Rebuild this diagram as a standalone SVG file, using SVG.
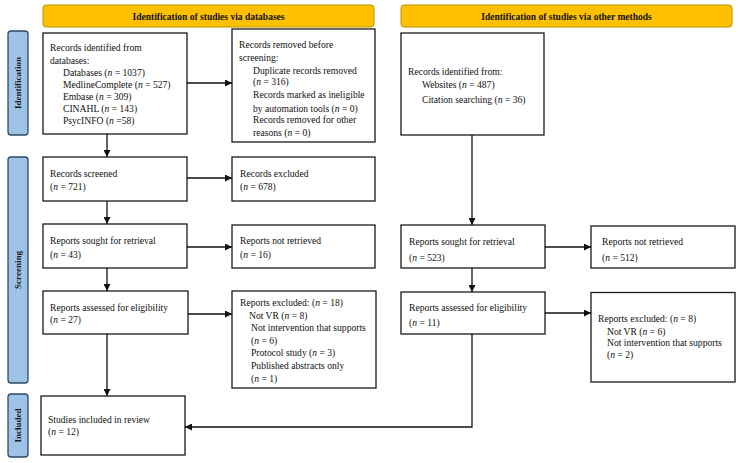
<svg xmlns="http://www.w3.org/2000/svg" width="740" height="463" viewBox="0 0 740 463">
<defs>
<marker id="arr" viewBox="0 0 10 10" refX="10" refY="5" markerWidth="7" markerHeight="7" markerUnits="userSpaceOnUse" orient="auto">
<path d="M0,0 L10,5 L0,10 z" fill="#111"/>
</marker>
<style>
.box{fill:#fff;stroke:#1a1a1a;stroke-width:1.3}
.hdr{fill:#FFC000;stroke:#BF9000;stroke-width:1}
.pill{fill:#9DC3E6;stroke:#2E4A66;stroke-width:1.3}
.t{font-family:"Liberation Serif",serif;font-size:9.6px;fill:#111}
.h{font-family:"Liberation Serif",serif;font-size:9.5px;font-weight:bold;fill:#111}
.s{font-family:"Liberation Serif",serif;font-size:9px;font-weight:bold;fill:#1a1a1a}
.c{fill:none;stroke:#111;stroke-width:1.3}
</style>
</defs>
<rect width="740" height="463" fill="#fff"/>

<g id="hdr-db"><rect class="hdr" x="43" y="5" width="331" height="22" rx="3"/><text class="h" x="208.5" y="19.5" text-anchor="middle">Identification of studies via databases</text></g>
<g id="hdr-other"><rect class="hdr" x="401" y="5" width="331" height="22" rx="3"/><text class="h" x="566.5" y="19.5" text-anchor="middle">Identification of studies via other methods</text></g>

<g id="lbl-identification"><rect class="pill" x="8" y="31" width="20" height="104" rx="3"/><text class="s" transform="translate(21,83) rotate(-90)" text-anchor="middle">Identification</text></g>
<g id="lbl-screening"><rect class="pill" x="8" y="157" width="20" height="226" rx="3"/><text class="s" transform="translate(21,270) rotate(-90)" text-anchor="middle">Screening</text></g>
<g id="lbl-included"><rect class="pill" x="8" y="394" width="20" height="63" rx="3"/><text class="s" transform="translate(21,425.5) rotate(-90)" text-anchor="middle">Included</text></g>

<g id="db-identified"><rect class="box" x="43" y="33" width="144" height="101"/>
<text class="t" x="50" y="51">Records identified from</text>
<text class="t" x="50" y="64">databases:</text>
<text class="t" x="63" y="76">Databases (<tspan font-style="italic">n</tspan> = 1037)</text>
<text class="t" x="63" y="88">MedlineComplete (<tspan font-style="italic">n</tspan> = 527)</text>
<text class="t" x="63" y="100">Embase (<tspan font-style="italic">n</tspan> = 309)</text>
<text class="t" x="63" y="112">CINAHL (<tspan font-style="italic">n</tspan> = 143)</text>
<text class="t" x="63" y="124">PsycINFO (<tspan font-style="italic">n</tspan> =58)</text>
</g>
<g id="db-removed"><rect class="box" x="232" y="29" width="143" height="113"/>
<text class="t" x="239" y="48">Records removed before</text>
<text class="t" x="239" y="61">screening:</text>
<text class="t" x="253" y="74">Duplicate records removed</text>
<text class="t" x="253" y="85">(<tspan font-style="italic">n</tspan> = 316)</text>
<text class="t" x="253" y="98">Records marked as ineligible</text>
<text class="t" x="253" y="111.5">by automation tools (<tspan font-style="italic">n</tspan> = 0)</text>
<text class="t" x="253" y="123">Records removed for other</text>
<text class="t" x="253" y="136">reasons (<tspan font-style="italic">n</tspan> = 0)</text>
</g>
<g id="db-screened"><rect class="box" x="43" y="157" width="144" height="44"/>
<text class="t" x="50" y="177">Records screened</text>
<text class="t" x="50" y="190">(<tspan font-style="italic">n</tspan> = 721)</text>
</g>
<g id="db-excluded"><rect class="box" x="232" y="157" width="143" height="44"/>
<text class="t" x="240" y="177">Records excluded</text>
<text class="t" x="240" y="190">(<tspan font-style="italic">n</tspan> = 678)</text>
</g>
<g id="db-sought"><rect class="box" x="43" y="224" width="144" height="44"/>
<text class="t" x="50" y="244">Reports sought for retrieval</text>
<text class="t" x="50" y="258">(<tspan font-style="italic">n</tspan> = 43)</text>
</g>
<g id="db-notretrieved"><rect class="box" x="232" y="225" width="143" height="43"/>
<text class="t" x="240" y="244">Reports not retrieved</text>
<text class="t" x="240" y="258">(<tspan font-style="italic">n</tspan> = 16)</text>
</g>
<g id="db-assessed"><rect class="box" x="43" y="291" width="145" height="43"/>
<text class="t" x="50" y="311">Reports assessed for eligibility</text>
<text class="t" x="50" y="323">(<tspan font-style="italic">n</tspan> = 27)</text>
</g>
<g id="db-reports-excluded"><rect class="box" x="232" y="291" width="144" height="97"/>
<text class="t" x="240" y="306">Reports excluded: (<tspan font-style="italic">n</tspan> = 18)</text>
<text class="t" x="249" y="318.5">Not VR (<tspan font-style="italic">n</tspan> = 8)</text>
<text class="t" x="251" y="331">Not intervention that supports</text>
<text class="t" x="251" y="343.5">(<tspan font-style="italic">n</tspan> = 6)</text>
<text class="t" x="251" y="356">Protocol study (<tspan font-style="italic">n</tspan> = 3)</text>
<text class="t" x="251" y="368.5">Published abstracts only</text>
<text class="t" x="251" y="382">(<tspan font-style="italic">n</tspan> = 1)</text>
</g>
<g id="included"><rect class="box" x="41" y="396" width="144" height="59"/>
<text class="t" x="48" y="423">Studies included in review</text>
<text class="t" x="48" y="435">(<tspan font-style="italic">n</tspan> = 12)</text>
</g>

<g id="oth-identified"><rect class="box" x="401" y="33" width="143" height="102"/>
<text class="t" x="408" y="75">Records identified from:</text>
<text class="t" x="422" y="87.5">Websites (<tspan font-style="italic">n</tspan> = 487)</text>
<text class="t" x="422" y="102.5">Citation searching (<tspan font-style="italic">n</tspan> = 36)</text>
</g>
<g id="oth-sought"><rect class="box" x="401" y="225" width="144" height="43"/>
<text class="t" x="409" y="245">Reports sought for retrieval</text>
<text class="t" x="409" y="260.5">(<tspan font-style="italic">n</tspan> = 523)</text>
</g>
<g id="oth-notretrieved"><rect class="box" x="591" y="226" width="144" height="42"/>
<text class="t" x="602" y="245">Reports not retrieved</text>
<text class="t" x="602" y="260.5">(<tspan font-style="italic">n</tspan> = 512)</text>
</g>
<g id="oth-assessed"><rect class="box" x="401" y="292" width="144" height="42"/>
<text class="t" x="409" y="311">Reports assessed for eligibility</text>
<text class="t" x="409" y="326">(<tspan font-style="italic">n</tspan> = 11)</text>
</g>
<g id="oth-reports-excluded"><rect class="box" x="591" y="292.5" width="144" height="89.5"/>
<text class="t" x="598" y="322">Reports excluded: (<tspan font-style="italic">n</tspan> = 8)</text>
<text class="t" x="607" y="334.5">Not VR (<tspan font-style="italic">n</tspan> = 6)</text>
<text class="t" x="607" y="346">Not intervention that supports</text>
<text class="t" x="607" y="358">(<tspan font-style="italic">n</tspan> = 2)</text>
</g>

<g id="connectors">
<path class="c" d="M187,83 H232" marker-end="url(#arr)"/>
<path class="c" d="M107,134 V157" marker-end="url(#arr)"/>
<path class="c" d="M187,178 H232" marker-end="url(#arr)"/>
<path class="c" d="M107,201 V224" marker-end="url(#arr)"/>
<path class="c" d="M187,247 H232" marker-end="url(#arr)"/>
<path class="c" d="M107,268 V291" marker-end="url(#arr)"/>
<path class="c" d="M188,314 H232" marker-end="url(#arr)"/>
<path class="c" d="M107,334 V396" marker-end="url(#arr)"/>
<path class="c" d="M472,135 V225" marker-end="url(#arr)"/>
<path class="c" d="M545,247 H591" marker-end="url(#arr)"/>
<path class="c" d="M472,268 V292" marker-end="url(#arr)"/>
<path class="c" d="M545,313 H591" marker-end="url(#arr)"/>
<path class="c" d="M472,334 V427 H185" marker-end="url(#arr)"/>
</g>
</svg>
